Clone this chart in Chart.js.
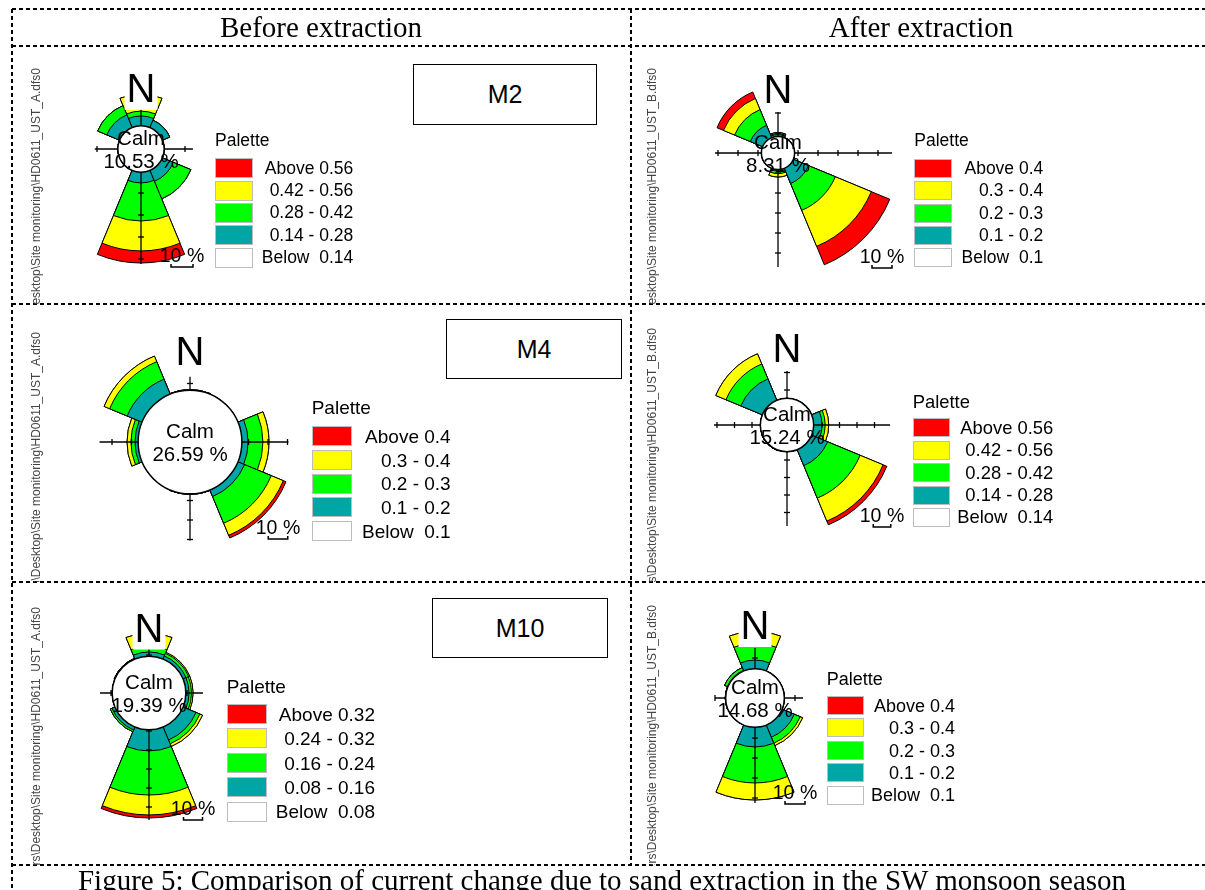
<!DOCTYPE html>
<html>
<head>
<meta charset="utf-8">
<script src="https://cdn.jsdelivr.net/npm/chart.js@4.4.1/dist/chart.umd.min.js"></script>
<style>
  html, body { margin: 0; padding: 0; background: #fff; }
  #page { position: relative; width: 1205px; height: 890px; overflow: hidden; font-family: "Liberation Sans", Arial, sans-serif; color: #000; }
  #grid { position: absolute; left: 0; top: 0; }
  .rose { position: absolute; }
  .txt { position: absolute; white-space: nowrap; line-height: 1; }
  .mbox { position: absolute; border: 1.5px solid #000; box-sizing: border-box; display: flex; align-items: center; justify-content: center; font-size: 25px; background: #fff; }
  .clip { position: absolute; overflow: hidden; }
  .side { position: absolute; writing-mode: vertical-rl; transform: rotate(180deg); font-size: 12px; line-height: 12px; color: #444; white-space: nowrap; }
  .swatch { position: absolute; box-sizing: border-box; border: 1px solid #bdbdbd; }
</style>
</head>
<body>
<div id="page">
  <canvas id="grid" width="1205" height="890"></canvas>
</div>
<script>
const directions = ['N', 'NE', 'E', 'SE', 'S', 'SW', 'W', 'NW'];
const binColors = ['#00a6a6', '#00ff00', '#ffff00', '#ff0000'];
const paletteColors = ['#ff0000', '#ffff00', '#00ff00', '#00a6a6', '#ffffff'];

// frequency (%) per direction, one row per speed class (slowest shown class first)
const m2Before = [
  [4.5, 3.6, 0, 5.4, 4.9, 0, 0, 6.3],
  [2.2, 0, 0, 8.6, 17.3, 0, 0, 4.5],
  [7.7, 0, 0, 0, 13.6, 0, 0, 0],
  [0, 0, 0, 0, 5.5, 0, 0, 0]
];
const m2After = [
  [0.9, 0, 0, 8.2, 0.7, 0, 0, 6.7],
  [0.5, 0, 0, 14.5, 1.3, 0, 0, 8.5],
  [0.5, 0, 0, 19.5, 1.7, 0, 0, 6.0],
  [0, 0, 0, 10.0, 0, 0, 0, 3.5]
];
const m4Before = [
  [0.3, 0, 3.2, 3.7, 0.3, 0, 1.6, 8.3],
  [0, 0, 7.6, 14.8, 0, 0, 2.1, 9.7],
  [0, 0, 3.1, 6.7, 0, 0, 2.0, 3.1],
  [0, 0, 0, 1.5, 0, 0, 0, 0]
];
const m4After = [
  [0, 0, 4.8, 9.9, 0, 0.3, 0, 13.3],
  [0, 0, 1.8, 20.1, 0, 0, 0, 9.2],
  [0, 0, 2.0, 14.2, 0, 0, 0, 6.3],
  [0, 0, 0, 2.3, 0, 0, 0, 0]
];
const m10Before = [
  [2.2, 1.7, 1.7, 7.4, 11.1, 1.7, 0, 0.4],
  [3.1, 1.5, 1.3, 2.2, 23.2, 1.0, 0, 0],
  [6.9, 0.6, 0.8, 1.5, 10.5, 0, 0, 0],
  [0, 0, 0, 0, 1.6, 0, 0, 0]
];
const m10After = [
  [4.3, 0, 0, 6.6, 9.8, 0, 0.2, 0.3],
  [8.5, 0, 0, 3.2, 18.0, 0, 0, 1.5],
  [6.0, 0, 0, 1.3, 8.5, 0, 0, 0],
  [0, 0, 0, 0, 0, 0, 0, 0]
];
const calmPercent = [10.53, 8.31, 26.59, 15.24, 19.39, 14.68];
const paletteLimits = [
  [0.14, 0.28, 0.42, 0.56],
  [0.1, 0.2, 0.3, 0.4],
  [0.1, 0.2, 0.3, 0.4],
  [0.14, 0.28, 0.42, 0.56],
  [0.08, 0.16, 0.24, 0.32],
  [0.1, 0.2, 0.3, 0.4]
];
const columnTitles = ['Before extraction', 'After extraction'];
const stationLabels = ['M2', 'M4', 'M10'];
const fileNames = ['C:\\Users\\Desktop\\Site monitoring\\HD0611_UST_A.dfs0', 'C:\\Users\\Desktop\\Site monitoring\\HD0611_UST_B.dfs0'];
const caption = 'Figure 5: Comparison of current change due to sand extraction in the SW monsoon season';

const SIZE = 320;
const page = document.getElementById('page');

// placement of each rose inside the figure (k = pixels per percent)
const roses = [
  { data: m2Before, calm: calmPercent[0], limits: paletteLimits[0], cx: 141, cy: 149, k: 2.2,
    axis: [26, 23.6, 52.3, 21], nDy: -61.5, bar: [41, 106],
    legend: { x: 215, y: 141, row1: 168.3, step: 22.35, right: 353.3, fs: 17.5, bw: 38, bh: 20 } },
  { data: m2After, calm: calmPercent[1], limits: paletteLimits[1], cx: 778, cy: 153, k: 2.0,
    axis: [20.5, 57, 57, 31.5], nDy: -64.7, bar: [104, 103],
    legend: { x: 914.3, y: 141, row1: 168.3, step: 22.4, right: 1043.3, fs: 17.5, bw: 37.5, bh: 19 } },
  { data: m4Before, calm: calmPercent[2], limits: paletteLimits[2], cx: 190, cy: 442, k: 1.95,
    axis: [33.5, 50.5, 50.5, 46.4], nDy: -91, bar: [88, 85],
    legend: { x: 311.7, y: 407.5, row1: 436, step: 23.8, right: 450.7, fs: 19, bw: 40, bh: 20 } },
  { data: m4After, calm: calmPercent[3], limits: paletteLimits[3], cx: 787, cy: 425, k: 1.75,
    axis: [30.9, 58.9, 57.7, 41.7], nDy: -77, bar: [95, 90],
    legend: { x: 912.7, y: 401.7, row1: 427.8, step: 22.4, right: 1053.3, fs: 18.4, bw: 37.5, bh: 19 } },
  { data: m10Before, calm: calmPercent[4], limits: paletteLimits[4], cx: 149, cy: 693, k: 1.9,
    axis: [31.6, 28.4, 66.8, 25.8], nDy: -65.8, bar: [44, 115],
    legend: { x: 226.7, y: 685.8, row1: 714, step: 24.4, right: 375, fs: 19, bw: 40.5, bh: 20 } },
  { data: m10After, calm: calmPercent[5], limits: paletteLimits[5], cx: 755, cy: 698, k: 2.0,
    axis: [25, 24, 52.5, 20], nDy: -73.3, bar: [40, 94],
    legend: { x: 826.7, y: 678.3, row1: 705.5, step: 22.4, right: 955, fs: 18, bw: 37.5, bh: 19 } }
];

// dashed table lines
const g = document.getElementById('grid').getContext('2d');
g.strokeStyle = '#000';
g.lineWidth = 2;
g.setLineDash([4, 3]);
[9, 46, 304, 582, 865].forEach(y => {
  g.beginPath(); g.moveTo(12, y); g.lineTo(1205, y); g.stroke();
});
g.beginPath(); g.moveTo(12, 9); g.lineTo(12, 890); g.stroke();
g.beginPath(); g.moveTo(631, 9); g.lineTo(631, 865); g.stroke();

// axes, calm circle, N and scale bar on top of the rings
const roseExtras = {
  id: 'roseExtras',
  afterDatasetsDraw(chart, args, opts) {
    const ctx = chart.ctx;
    const r = chart.scales.r;
    const x0 = r.xCenter, y0 = r.yCenter;
    const dist = p => r.getDistanceFromCenterForValue(p - opts.calm);
    ctx.save();
    ctx.strokeStyle = '#000';
    ctx.lineWidth = 1.3;
    const dirs = [[0, -1], [1, 0], [0, 1], [-1, 0]];
    dirs.forEach((d, i) => {
      const len = dist(opts.axis[i]);
      ctx.beginPath();
      ctx.moveTo(x0, y0);
      ctx.lineTo(x0 + d[0] * len, y0 + d[1] * len);
      ctx.stroke();
      for (let p = 10; p <= opts.axis[i]; p += 10) {
        const t = dist(p);
        const tx = x0 + d[0] * t, ty = y0 + d[1] * t;
        ctx.beginPath();
        ctx.moveTo(tx - d[1] * 3, ty - d[0] * 3);
        ctx.lineTo(tx + d[1] * 3, ty + d[0] * 3);
        ctx.stroke();
      }
    });

    const cr = r.getDistanceFromCenterForValue(0);
    ctx.beginPath();
    ctx.arc(x0, y0, cr, 0, Math.PI * 2);
    ctx.fillStyle = '#fff';
    ctx.fill();
    ctx.lineWidth = 1.5;
    ctx.stroke();

    ctx.fillStyle = '#000';
    ctx.textAlign = 'center';
    ctx.textBaseline = 'alphabetic';
    ctx.font = '20.5px "Liberation Sans", Arial, sans-serif';
    ctx.fillText('Calm', x0, y0 - 11 + 0.358 * 20.5);
    ctx.fillText(opts.calm.toFixed(2) + ' %', x0, y0 + 12 + 0.358 * 20.5);

    // N label with its white box
    ctx.font = '40px "Liberation Sans", Arial, sans-serif';
    const nw = ctx.measureText('N').width;
    const nBase = y0 + opts.nDy + 0.358 * 40;
    ctx.fillStyle = '#fff';
    ctx.fillRect(x0 - nw / 2 - 2, nBase - 0.716 * 40 - 3, nw + 4, 0.716 * 40 + 11);
    ctx.fillStyle = '#000';
    ctx.fillText('N', x0, nBase);

    // 10 % scale bar
    const bx = x0 + opts.bar[0], by = y0 + opts.bar[1];
    ctx.font = '19.5px "Liberation Sans", Arial, sans-serif';
    ctx.fillText('10 %', bx, by + 0.358 * 19.5);
    const bl = dist(10);
    const yy = by + 12;
    ctx.lineWidth = 1.5;
    ctx.beginPath();
    ctx.moveTo(bx - bl / 2, yy - 3);
    ctx.lineTo(bx - bl / 2, yy);
    ctx.lineTo(bx + bl / 2, yy);
    ctx.lineTo(bx + bl / 2, yy - 3);
    ctx.stroke();
    ctx.restore();
  }
};

function makeRose(cfg) {
  const canvas = document.createElement('canvas');
  canvas.width = SIZE;
  canvas.height = SIZE;
  canvas.className = 'rose';
  canvas.style.left = (cfg.cx - SIZE / 2) + 'px';
  canvas.style.top = (cfg.cy - SIZE / 2) + 'px';
  page.appendChild(canvas);

  let running = directions.map(() => 0);
  const datasets = cfg.data.map((bin, i) => {
    running = running.map((v, j) => v + bin[j]);
    return {
      label: 'class ' + (i + 1),
      data: running.slice(),
      backgroundColor: binColors[i],
      borderColor: '#000',
      borderWidth: 1
    };
  });

  new Chart(canvas, {
    type: 'polarArea',
    data: { labels: directions, datasets: datasets },
    options: {
      responsive: false,
      animation: false,
      events: [],
      layout: { padding: 0 },
      plugins: {
        legend: { display: false },
        tooltip: { enabled: false },
        roseExtras: { calm: cfg.calm, axis: cfg.axis, nDy: cfg.nDy, bar: cfg.bar }
      },
      scales: {
        r: {
          display: false,
          startAngle: -22.5,
          min: -cfg.calm,
          max: SIZE / 2 / cfg.k - cfg.calm
        }
      }
    },
    plugins: [roseExtras]
  });
}

// text placed by the centre of its capital letters
function addText(str, x, capCy, fs, align, serif) {
  const el = document.createElement('div');
  el.className = 'txt';
  el.textContent = str;
  el.style.fontSize = fs + 'px';
  if (serif) el.style.fontFamily = '"Liberation Serif", "Times New Roman", serif';
  const top = serif ? capCy - 0.5065 * fs : capCy - 0.4885 * fs;
  el.style.top = top + 'px';
  el.style.left = x + 'px';
  if (align === 'center') el.style.transform = 'translateX(-50%)';
  if (align === 'right') el.style.transform = 'translateX(-100%)';
  page.appendChild(el);
  return el;
}

function makeLegend(cfg) {
  const L = cfg.legend;
  const lim = cfg.limits;
  addText('Palette', L.x, L.y, L.fs, 'left');
  const labels = ['Above ' + lim[3], lim[2] + ' - ' + lim[3], lim[1] + ' - ' + lim[2], lim[0] + ' - ' + lim[1], 'Below  ' + lim[0]];
  labels.forEach((t, i) => {
    const cy = L.row1 + i * L.step;
    const sw = document.createElement('div');
    sw.className = 'swatch';
    sw.style.left = L.x + 'px';
    sw.style.top = (cy - L.bh / 2) + 'px';
    sw.style.width = L.bw + 'px';
    sw.style.height = L.bh + 'px';
    sw.style.background = paletteColors[i];
    page.appendChild(sw);
    const el = addText(t, L.right, cy, L.fs, 'right');
    el.style.whiteSpace = 'pre';
  });
}

roses.forEach(makeRose);

// rotated file path at the left of each cell
const cells = [
  [12, 46, 619, 258], [631, 46, 574, 258],
  [12, 304, 619, 278], [631, 304, 574, 278],
  [12, 582, 619, 283], [631, 582, 574, 283]
];
const sideTops = [68, 68, 331.7, 328, 606.7, 605];
cells.forEach((c, i) => {
  const clip = document.createElement('div');
  clip.className = 'clip';
  clip.style.left = c[0] + 'px';
  clip.style.top = c[1] + 'px';
  clip.style.width = c[2] + 'px';
  clip.style.height = c[3] + 'px';
  const s = document.createElement('div');
  s.className = 'side';
  s.textContent = fileNames[i % 2];
  const sx = i % 2 === 0 ? 35.5 : 652;
  s.style.left = (sx - 6 - c[0]) + 'px';
  s.style.top = (sideTops[i] - c[1]) + 'px';
  clip.appendChild(s);
  page.appendChild(clip);
});

roses.forEach(makeLegend);

// station boxes
const mBoxes = [[413, 64, 184, 61], [446, 319, 176, 60], [432, 598, 176, 60]];
mBoxes.forEach((b, i) => {
  const el = document.createElement('div');
  el.className = 'mbox';
  el.style.left = b[0] + 'px';
  el.style.top = b[1] + 'px';
  el.style.width = b[2] + 'px';
  el.style.height = b[3] + 'px';
  el.textContent = stationLabels[i];
  page.appendChild(el);
});

addText(columnTitles[0], 321, 27.5, 29, 'center', true);
addText(columnTitles[1], 921, 27.5, 29, 'center', true);
addText(caption, 602, 881, 29, 'center', true);
</script>
</body>
</html>
